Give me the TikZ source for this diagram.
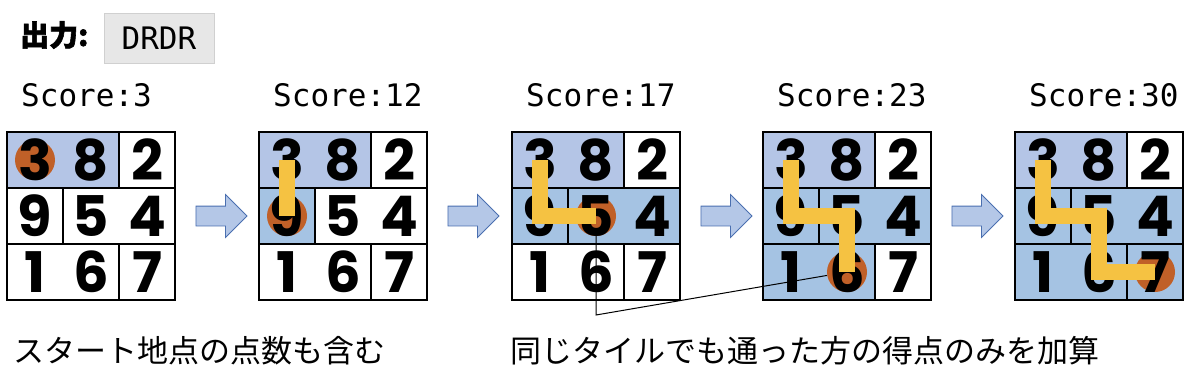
\documentclass[tikz,border=0pt]{standalone}
\usepackage{fontspec}
\setmainfont{Noto Sans CJK JP}
\newfontfamily\headfont{Noto Sans CJK JP}[FakeBold=2]
\newfontfamily\monofont{DejaVu Sans Mono}
\newfontfamily\digitfont{Poppins}
\usetikzlibrary{shapes.arrows}

\definecolor{tileTop}{RGB}{180,197,230}
\definecolor{tileBlue}{RGB}{165,195,227}
\definecolor{arrowFill}{RGB}{180,199,231}
\definecolor{arrowLine}{RGB}{74,111,176}
\definecolor{startDot}{RGB}{192,96,40}
\definecolor{pathGold}{RGB}{245,194,66}
\definecolor{codeGray}{RGB}{231,231,231}
\definecolor{codeEdge}{RGB}{208,208,208}

\tikzset{
  digit/.style={font=\digitfont\bfseries\fontsize{56}{56}\selectfont, inner sep=0pt},
  scorelabel/.style={font=\monofont\fontsize{31}{31}\selectfont, anchor=west, inner sep=0pt},
  note/.style={font=\fontsize{31}{31}\selectfont, anchor=west, inner sep=0pt},
  codebox/.style={font=\monofont\fontsize{31}{31}\selectfont, fill=codeGray, draw=codeEdge, line width=1pt, minimum width=110pt, minimum height=50pt, inner sep=0pt},
  tileline/.style={black, line width=1.5pt},
  stepArrow/.style={single arrow, draw=arrowLine, fill=arrowFill, line width=0.8pt, minimum height=51pt, single arrow head extend=11.5pt, inner sep=0pt},
  route/.style={pathGold, line width=16pt, line join=miter},
  dot/.style={circle, fill=startDot, minimum size=40pt, inner sep=0pt},
  callout/.style={black, line width=1pt}
}

\begin{document}
\begin{tikzpicture}[x=1pt, y=-1pt]
    \useasboundingbox (0,0) rectangle (1200,384);

    % Output
    \node[anchor=west, inner sep=0pt, font=\headfont\bfseries\fontsize{29}{29}\selectfont] (outlabel) at (20,35) {出力:};
    \node[codebox] (outcode) at (159,38) {DRDR};

    % Tiles and scores
    \foreach \gx/\ns/\sc [count=\g] in {7/1/3, 259/2/12, 512/3/17, 763/4/23, 1015/5/30} {
        \begin{scope}[shift={(\gx,132)}]
            \fill[tileTop] (0,0) rectangle (112,56);
            \ifnum\ns>1 \fill[tileBlue] (0,56) rectangle (56,112); \fi
            \ifnum\ns>2 \fill[tileBlue] (56,56) rectangle (168,112); \fi
            \ifnum\ns>3 \fill[tileBlue] (0,112) rectangle (112,168); \fi
            \ifnum\ns>4 \fill[tileBlue] (112,112) rectangle (168,168); \fi
            \draw[tileline] (0,0) rectangle (168,168);
            \draw[tileline] (0,56) -- (168,56) (0,112) -- (168,112);
            \draw[tileline] (112,0) -- (112,56) (56,56) -- (56,112) (112,112) -- (112,168);
        \end{scope}
        \node[scorelabel] (score\g) at (\gx+14,95) {Score:\sc};
    }

    % Arrows between steps
    \foreach \gx [count=\a] in {7, 259, 512, 763}
        \node[stepArrow] (arrow\a) at (\gx+209.5,216) {\rule{0pt}{19pt}};

    % Current position
    \node[dot] (c1) at (35,160) {};
    \node[dot] (c2) at (287,216) {};
    \node[dot] (c3) at (596,216) {};
    \node[dot] (c4) at (847,272) {};
    \node[dot] (c5) at (1155,272) {};

    % Numbers
    \foreach \gx [count=\g] in {7, 259, 512, 763, 1015}
        \foreach \v [count=\i from 0] in {3,8,2,9,5,4,1,6,7} {
            \pgfmathtruncatemacro\col{mod(\i,3)}
            \pgfmathtruncatemacro\row{int(\i/3)}
            \node[digit] (d\g-\v) at (\gx+28+56*\col, 160+56*\row) {\v};
        }

    % Routes (DRDR)
    \draw[route] (287,160) -- (287,216);
    \draw[route] (540,160) -- (540,216) -- (596,216);
    \draw[route] (791,160) -- (791,216) -- (847,216) -- (847,272);
    \draw[route] (1043,160) -- (1043,216) -- (1099,216) -- (1099,272) -- (1155,272);

    % Callout
    \coordinate (bend) at (596,315);
    \draw[callout] (c3) -- (bend) -- (c4);

    % Notes
    \node[note] (note1) at (13,351) {スタート地点の点数も含む};
    \node[note] (note2) at (510,351) {同じタイルでも通った方の得点のみを加算};
\end{tikzpicture}
\end{document}
